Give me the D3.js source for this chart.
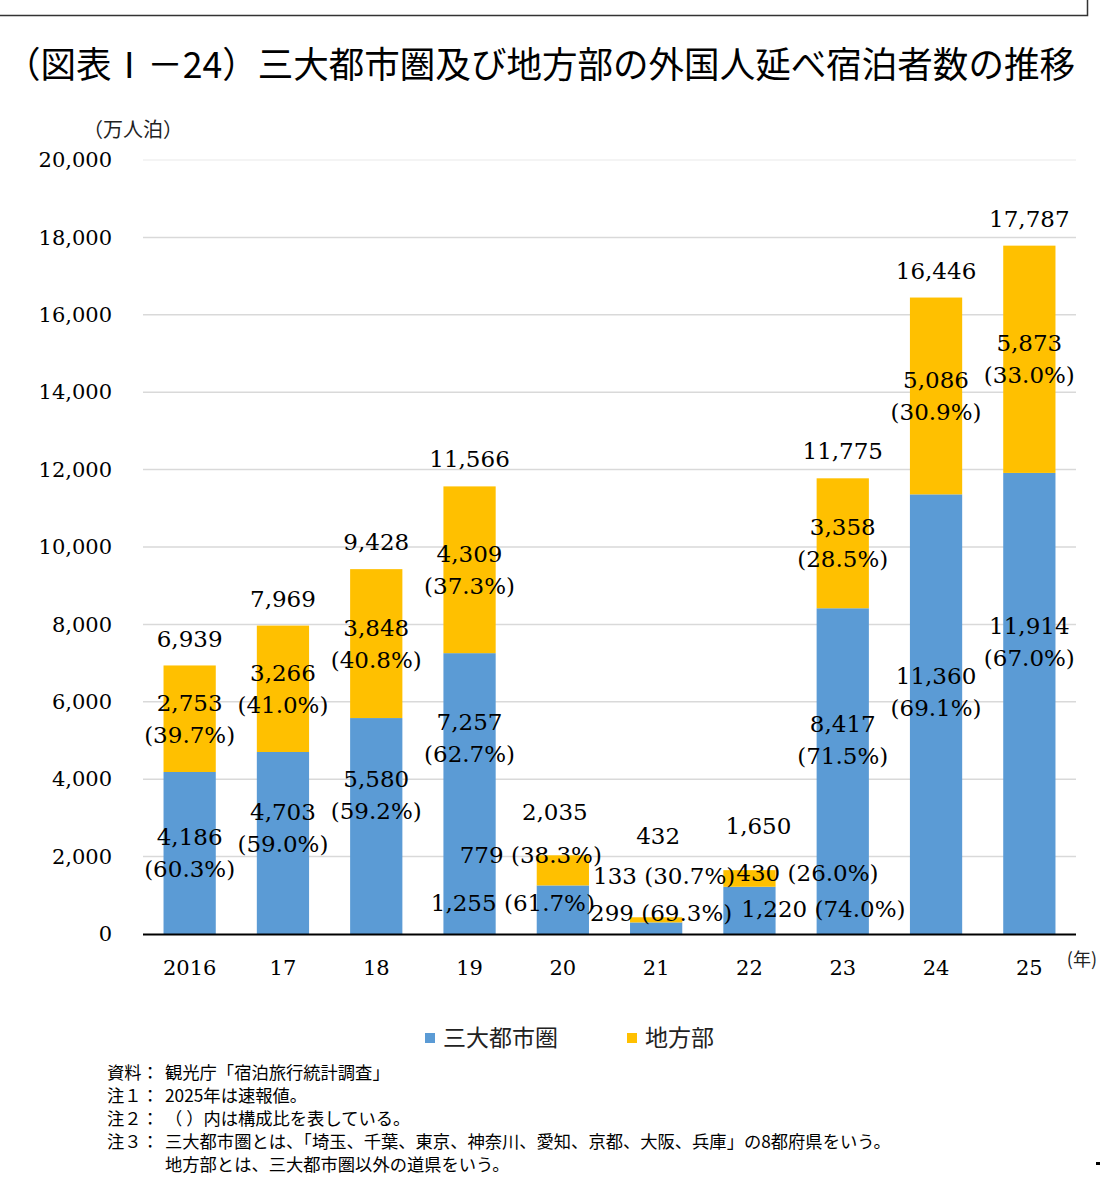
<!DOCTYPE html>
<html>
<head>
<meta charset="utf-8">
<script src="https://cdn.jsdelivr.net/npm/d3@7"></script>
<style>
  body { margin: 0; background: #fff; }
  svg { display: block; }
</style>
</head>
<body>
<svg id="chart" width="1101" height="1182"></svg>
<script>
// Chart data
var years = ['2016', '17', '18', '19', '20', '21', '22', '23', '24', '25'];
var metro = [4186, 4703, 5580, 7257, 1255, 299, 1220, 8417, 11360, 11914];
var local = [2753, 3266, 3848, 4309, 779, 133, 430, 3358, 5086, 5873];
var totals = [6939, 7969, 9428, 11566, 2035, 432, 1650, 11775, 16446, 17787];
var metroPct = ['60.3', '59.0', '59.2', '62.7', '61.7', '69.3', '74.0', '71.5', '69.1', '67.0'];
var localPct = ['39.7', '41.0', '40.8', '37.3', '38.3', '30.7', '26.0', '28.5', '30.9', '33.0'];
var yTicks = [0, 2000, 4000, 6000, 8000, 10000, 12000, 14000, 16000, 18000, 20000];
var seriesNames = ['三大都市圏', '地方部'];
var notes = [
  ['資料：', '観光庁「宿泊旅行統計調査」'],
  ['注１：', '2025年は速報値。'],
  ['注２：', '（ ）内は構成比を表している。'],
  ['注３：', '三大都市圏とは、「埼玉、千葉、東京、神奈川、愛知、京都、大阪、兵庫」の8都府県をいう。'],
  ['', '地方部とは、三大都市圏以外の道県をいう。']
];

// label nudges (pixels), like the hand-moved labels in the original
var metroShift = {'17': [0, -15], '18': [0, -31], '19': [0, -56], '23': [0, -31], '24': [0, -22], '25': [0, -62],
                  '20': [-50, -7], '21': [5, -15], '22': [74, -1]};
var localShift = {'20': [-32, -15], '21': [8, -44], '22': [58, -6]};
var totalShift = {'20': [-8, -16], '21': [2, -54], '22': [9, -17]};
var singleLine = {'20': true, '21': true, '22': true};

var blue = '#5B9BD5', gold = '#FFC000';
var serif = '"DejaVu Serif", "Liberation Serif", serif';
var gothic = '"Noto Sans CJK JP", sans-serif';

var svg = d3.select('#chart');

// frame at top
svg.append('path')
   .attr('d', 'M0,15.5H1087.5V0')
   .attr('fill', 'none')
   .attr('stroke', '#333')
   .attr('stroke-width', 1.5);

// title
svg.append('text')
   .attr('x', 5).attr('y', 78)
   .attr('textLength', 1070).attr('lengthAdjust', 'spacingAndGlyphs')
   .style('font-family', gothic).style('font-size', '36px').style('fill', '#000')
   .text('（図表Ⅰ－24）三大都市圏及び地方部の外国人延べ宿泊者数の推移');

var x = d3.scaleBand().domain(years).range([143, 1076]).paddingInner(0.44).paddingOuter(0.22);
var y = d3.scaleLinear().domain([0, 20000]).range([934, 160]);

// gridlines
svg.append('g').selectAll('line')
   .data(yTicks.filter(function(d) { return d > 0; }))
   .enter().append('line')
   .attr('x1', 143).attr('x2', 1076)
   .attr('y1', function(d) { return y(d); }).attr('y2', function(d) { return y(d); })
   .attr('stroke', function(d) { return d === 20000 ? '#f0f0f0' : '#d9d9d9'; })
   .attr('stroke-width', 1.5);

// y axis labels
var yAxis = d3.axisLeft(y).tickValues(yTicks).tickSize(0).tickPadding(0)
              .tickFormat(d3.format(','));
svg.append('g')
   .attr('transform', 'translate(112,0)')
   .call(yAxis)
   .call(function(g) { g.select('.domain').remove(); })
   .selectAll('text')
   .style('font-family', serif).style('font-size', '21px').style('fill', '#000');

svg.append('text')
   .attr('x', 133).attr('y', 137).attr('text-anchor', 'middle')
   .style('font-family', gothic).style('font-size', '20px').style('fill', '#222')
   .text('（万人泊）');

// bars
var rows = years.map(function(yr, i) {
  return {year: yr, metro: metro[i], local: local[i], total: totals[i], mp: metroPct[i], lp: localPct[i]};
});

var g = svg.append('g');
g.selectAll('rect.metro').data(rows).enter().append('rect')
 .attr('class', 'metro')
 .attr('x', function(d) { return x(d.year); })
 .attr('width', x.bandwidth())
 .attr('y', function(d) { return y(d.metro); })
 .attr('height', function(d) { return y(0) - y(d.metro); })
 .attr('fill', blue);

g.selectAll('rect.local').data(rows).enter().append('rect')
 .attr('class', 'local')
 .attr('x', function(d) { return x(d.year); })
 .attr('width', x.bandwidth())
 .attr('y', function(d) { return y(d.metro + d.local); })
 .attr('height', function(d) { return y(d.metro) - y(d.metro + d.local); })
 .attr('fill', gold);

// x axis line
svg.append('line')
   .attr('x1', 143).attr('x2', 1076).attr('y1', 934.5).attr('y2', 934.5)
   .attr('stroke', '#000').attr('stroke-width', 2);

// x labels
var xAxis = d3.axisBottom(x).tickSize(0).tickPadding(0);
svg.append('g')
   .attr('transform', 'translate(0,968)')
   .call(xAxis)
   .call(function(g) { g.select('.domain').remove(); })
   .selectAll('text')
   .attr('dy', '0.35em')
   .style('font-family', serif).style('font-size', '21px').style('fill', '#000');

svg.append('text')
   .attr('x', 1097).attr('y', 966).attr('text-anchor', 'end')
   .style('font-family', gothic).style('font-size', '18px').style('fill', '#222')
   .text('(年)');

// data labels
var fmt = d3.format(',');
var labels = svg.append('g')
   .style('font-family', serif).style('font-size', '23px').style('fill', '#000')
   .attr('text-anchor', 'middle');

function segLabel(d, val, pct, mid, shift) {
  var s = shift[d.year] || [0, 0];
  var cx = x(d.year) + x.bandwidth() / 2 + s[0];
  var cy = mid + s[1];
  if (singleLine[d.year]) {
    labels.append('text').attr('x', cx).attr('y', cy).attr('dy', '0.35em')
          .text(fmt(val) + ' (' + pct + '%)');
  } else {
    labels.append('text').attr('x', cx).attr('y', cy - 16).attr('dy', '0.35em').text(fmt(val));
    labels.append('text').attr('x', cx).attr('y', cy + 16).attr('dy', '0.35em').text('(' + pct + '%)');
  }
}

rows.forEach(function(d) {
  segLabel(d, d.local, d.lp, (y(d.metro) + y(d.metro + d.local)) / 2, localShift);
  segLabel(d, d.metro, d.mp, (y(0) + y(d.metro)) / 2, metroShift);
  var s = totalShift[d.year] || [0, 0];
  labels.append('text')
        .attr('x', x(d.year) + x.bandwidth() / 2 + s[0])
        .attr('y', y(d.total) - 27 + s[1])
        .attr('dy', '0.35em')
        .text(fmt(d.total));
});

// legend
var legend = svg.append('g').attr('transform', 'translate(425,1038)');
var legItems = legend.selectAll('g').data(seriesNames).enter().append('g')
   .attr('transform', function(d, i) { return 'translate(' + (i * 202) + ',0)'; });
legItems.append('rect')
   .attr('x', 0).attr('y', -5).attr('width', 10).attr('height', 10)
   .attr('fill', function(d, i) { return i === 0 ? blue : gold; });
legItems.append('text')
   .attr('x', 18).attr('dy', '0.35em')
   .style('font-family', gothic).style('font-size', '23px').style('fill', '#222')
   .text(function(d) { return d; });

// notes
var noteG = svg.append('g')
   .style('font-family', gothic).style('font-size', '17.3px').style('fill', '#000');
notes.forEach(function(n, i) {
  var yy = 1073 + i * 23;
  noteG.append('text').attr('x', 107).attr('y', yy).attr('dy', '0.35em').text(n[0]);
  noteG.append('text').attr('x', 165).attr('y', yy).attr('dy', '0.35em').text(n[1]);
});

svg.append('rect').attr('x', 1096).attr('y', 1162).attr('width', 4).attr('height', 3).attr('fill', '#000');
</script>
</body>
</html>
